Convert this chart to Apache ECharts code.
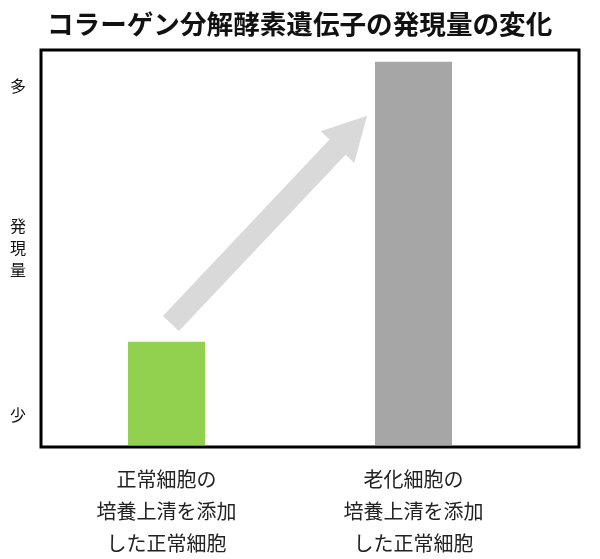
<!DOCTYPE html>
<html>
<head>
<meta charset="utf-8">
<script src="https://cdn.jsdelivr.net/npm/echarts@6/dist/echarts.min.js"></script>
<style>
html,body{margin:0;padding:0;background:#fff;}
#chart{width:600px;height:559px;}
</style>
</head>
<body>
<div id="chart"></div>
<script>
var titleText = 'コラーゲン分解酵素遺伝子の発現量の変化';
var categories = ['正常細胞の\n培養上清を添加\nした正常細胞', '老化細胞の\n培養上清を添加\nした正常細胞'];
var values = [31.4, 116.4];
var barColors = ['#92d050', '#a6a6a6'];
var yTickValues = [9, 60, 109];
var yTickLabels = ['少', '発\n現\n量', '多'];
// arrow: from category 0 / value 36.9 to category 1 / value 100 (x offsets in band fractions)
var arrowFrom = [0, 36.9];
var arrowTo = [1, 100];
var arrowOffset = [0.018, -0.188];

var chart = echarts.init(document.getElementById('chart'));
var font = '"Noto Sans CJK JP", "Noto Sans", sans-serif';

chart.setOption({
  animation: false,
  backgroundColor: '#ffffff',
  title: {
    text: titleText,
    left: 42,
    top: 6,
    textStyle: { fontFamily: font, fontSize: 26.6, fontWeight: 'bold', color: '#111' }
  },
  grid: [
    { left: 43, right: 63, top: 50, bottom: 112 },
    { left: 41, right: 21, top: 50, bottom: 112,
      show: true, borderColor: '#000', borderWidth: 3, backgroundColor: 'transparent' }
  ],
  xAxis: [{
    type: 'category',
    gridIndex: 0,
    data: categories,
    axisLine: { show: false },
    axisTick: { show: false },
    splitLine: { show: false },
    axisLabel: {
      interval: 0, margin: 18,
      fontFamily: font, fontSize: 20, lineHeight: 32, color: '#222'
    }
  }, {
    type: 'value', gridIndex: 1, show: false
  }],
  yAxis: [{
    type: 'value',
    gridIndex: 0,
    min: 0, max: 120, interval: 1,
    axisLine: { show: false },
    axisTick: { show: false },
    splitLine: { show: false },
    axisLabel: {
      margin: 17,
      fontFamily: font, fontSize: 16, lineHeight: 22, color: '#111',
      formatter: function (v) {
        var i = yTickValues.indexOf(v);
        return i >= 0 ? yTickLabels[i] : '';
      }
    }
  }, {
    type: 'value', gridIndex: 1, show: false
  }],
  series: [
    {
      type: 'bar',
      xAxisIndex: 0, yAxisIndex: 0,
      barWidth: '31.2%',
      data: values.map(function (v, i) {
        return { value: v, itemStyle: { color: barColors[i] } };
      })
    },
    {
      type: 'custom',
      xAxisIndex: 0, yAxisIndex: 0,
      encode: { x: [0, 2], y: [1, 3] },
      data: [[arrowFrom[0], arrowFrom[1], arrowTo[0], arrowTo[1]]],
      renderItem: function (params, api) {
        var band = api.size([1, 0])[0];
        var p0 = api.coord([api.value(0), api.value(1)]);
        var p1 = api.coord([api.value(2), api.value(3)]);
        p0[0] += arrowOffset[0] * band;
        p1[0] += arrowOffset[1] * band;
        var dx = p1[0] - p0[0], dy = p1[1] - p0[1];
        var len = Math.sqrt(dx * dx + dy * dy);
        var ux = dx / len, uy = dy / len;
        var nx = -uy, ny = ux;
        var sw = 11, hw = 23, hl = 43;
        var bx = p1[0] - ux * hl, by = p1[1] - uy * hl;
        var pts = [
          [p0[0] + nx * sw, p0[1] + ny * sw],
          [bx + nx * sw, by + ny * sw],
          [bx + nx * hw, by + ny * hw],
          [p1[0], p1[1]],
          [bx - nx * hw, by - ny * hw],
          [bx - nx * sw, by - ny * sw],
          [p0[0] - nx * sw, p0[1] - ny * sw]
        ];
        return { type: 'polygon', shape: { points: pts }, style: { fill: '#d9d9d9' } };
      }
    }
  ]
});
</script>
</body>
</html>
